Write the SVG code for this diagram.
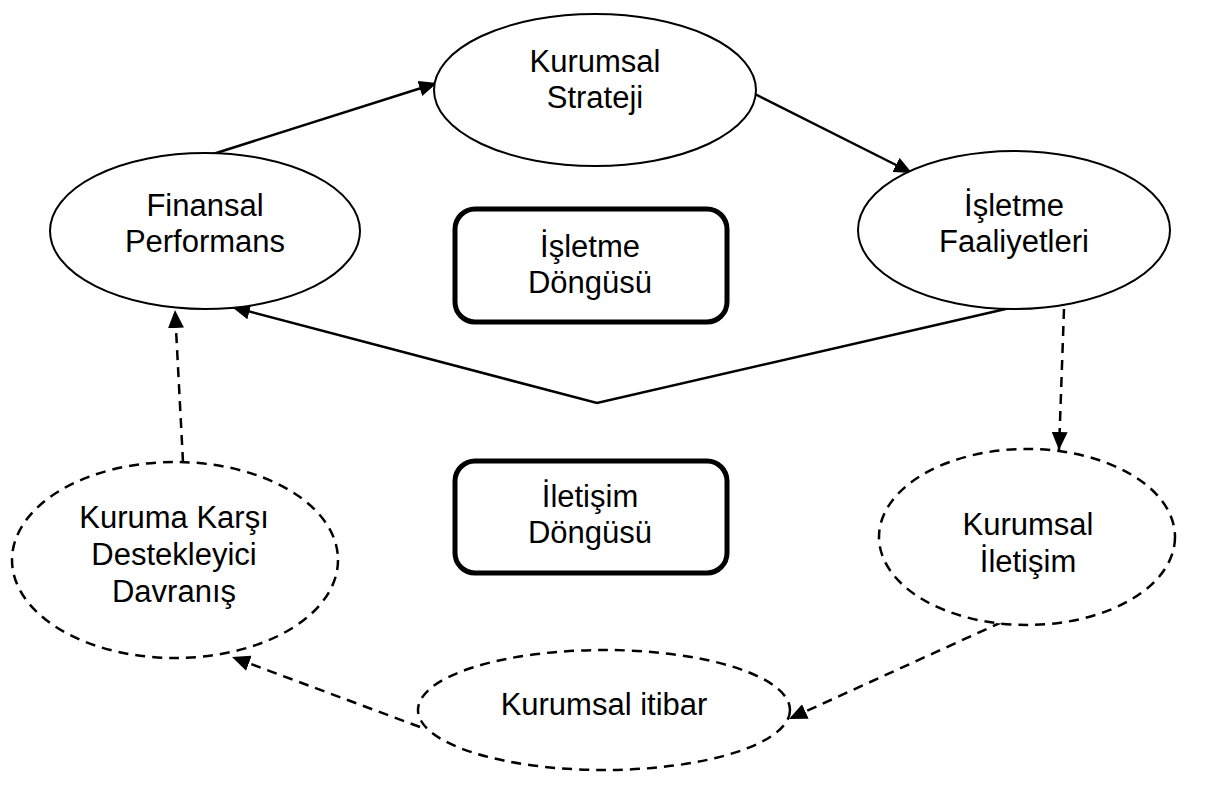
<svg xmlns="http://www.w3.org/2000/svg" width="1206" height="798" viewBox="0 0 1206 798">
<style>
text{font-family:"Liberation Sans",Arial,sans-serif;font-size:31px;fill:#000;text-anchor:middle}
.solid{fill:#fff;stroke:#000;stroke-width:2}
.dash{fill:#fff;stroke:#000;stroke-width:2.5;stroke-dasharray:10 7}
.box{fill:#fff;stroke:#000;stroke-width:5}
.ln{fill:none;stroke:#000;stroke-width:2.5}
.dl{fill:none;stroke:#000;stroke-width:2.5;stroke-dasharray:10 7}
</style>
<defs>
<marker id="ah" markerUnits="userSpaceOnUse" markerWidth="20" markerHeight="16" refX="18" refY="8" orient="auto">
<path d="M0,0 L18,8 L0,16 Z" fill="#000"/>
</marker>
</defs>
<g id="connectors">
<line class="ln" x1="210" y1="155" x2="437" y2="83" marker-end="url(#ah)"/>
<line class="ln" x1="753" y1="93" x2="912" y2="173" marker-end="url(#ah)"/>
<polyline class="ln" points="1010,308 597,403 232,307" marker-end="url(#ah)"/>
<line class="dl" x1="1064" y1="309" x2="1059" y2="450" marker-end="url(#ah)"/>
<line class="dl" x1="1002" y1="622" x2="789" y2="719" marker-end="url(#ah)"/>
<line class="dl" x1="420" y1="727" x2="232" y2="657" marker-end="url(#ah)"/>
<line class="dl" x1="183" y1="462" x2="175" y2="310" marker-end="url(#ah)"/>
</g>
<g id="strateji">
<ellipse class="solid" cx="595" cy="90" rx="161" ry="76"/>
<text x="595" y="72">Kurumsal</text>
<text x="595" y="108">Strateji</text>
</g>
<g id="finansal">
<ellipse class="solid" cx="205" cy="231" rx="155" ry="78"/>
<text x="205" y="216">Finansal</text>
<text x="205" y="252">Performans</text>
</g>
<g id="faaliyetleri">
<ellipse class="solid" cx="1014" cy="230" rx="156" ry="79"/>
<text x="1014" y="216">İşletme</text>
<text x="1014" y="252">Faaliyetleri</text>
</g>
<g id="isletme-dongusu">
<rect class="box" x="455" y="209" width="272" height="113" rx="20"/>
<text x="590" y="257">İşletme</text>
<text x="590" y="293">Döngüsü</text>
</g>
<g id="iletisim-dongusu">
<rect class="box" x="455" y="461" width="272" height="112" rx="20"/>
<text x="590" y="507">İletişim</text>
<text x="590" y="543">Döngüsü</text>
</g>
<g id="kurumsal-iletisim">
<ellipse class="dash" cx="1027" cy="537" rx="148" ry="88"/>
<text x="1028" y="535">Kurumsal</text>
<text x="1028" y="572">İletişim</text>
</g>
<g id="itibar">
<ellipse class="dash" cx="604" cy="710" rx="186" ry="60"/>
<text x="604" y="715">Kurumsal itibar</text>
</g>
<g id="destekleyici">
<ellipse class="dash" cx="175" cy="560" rx="163" ry="98"/>
<text x="174" y="528">Kuruma Karşı</text>
<text x="174" y="565">Destekleyici</text>
<text x="174" y="602">Davranış</text>
</g>
</svg>
